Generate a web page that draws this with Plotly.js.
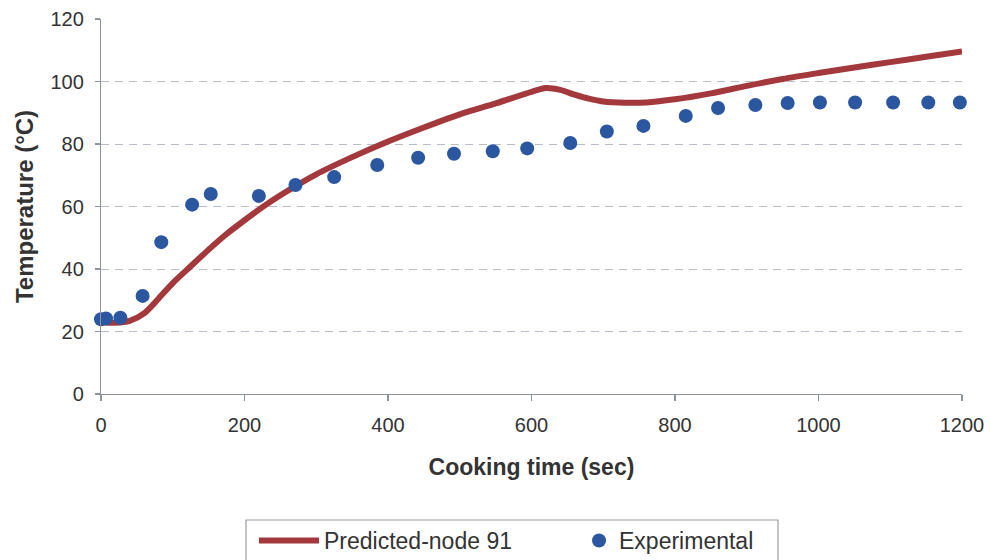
<!DOCTYPE html>
<html>
<head>
<meta charset="utf-8">
<script src="https://cdn.plot.ly/plotly-3.0.1.min.js"></script>
<style>
  html, body { margin: 0; padding: 0; background: #ffffff; }
  #chart { width: 990px; height: 560px; }
</style>
</head>
<body>
<div id="chart"></div>
<script>
// Predicted temperature at node 91 (model output)
const predTime = [0, 20, 40, 60, 80, 100, 120, 150, 175, 200, 225, 250, 300, 350, 400, 450, 500, 550,
                  600, 620, 640, 660, 680, 700, 730, 760, 800, 850, 900, 950, 1000, 1050, 1100, 1150, 1200];
const predTemp = [23, 22.8, 23.4, 25.8, 30.5, 35.5, 39.8, 46.2, 51.2, 55.6, 59.8, 63.6, 70.3, 75.8, 80.8, 85.3, 89.5, 93,
                  96.7, 97.9, 97.3, 95.8, 94.5, 93.6, 93.2, 93.3, 94.3, 96.2, 98.6, 100.8, 102.7, 104.5, 106.2, 107.9, 109.6];

// Measured temperatures
const expTime = [0, 7, 27, 58, 84, 127, 153, 220, 271, 325, 385, 442, 492, 546, 594, 654,
                 705, 756, 815, 860, 912, 957, 1002, 1051, 1104, 1153, 1197];
const expTemp = [23.9, 24.2, 24.4, 31.4, 48.6, 60.6, 64.0, 63.4, 66.9, 69.4, 73.3, 75.6, 76.9, 77.7, 78.6, 80.3,
                 84.0, 85.8, 89.0, 91.5, 92.5, 93.1, 93.3, 93.3, 93.3, 93.3, 93.3];

const xTicks = [0, 200, 400, 600, 800, 1000, 1200];
const yTicks = [0, 20, 40, 60, 80, 100, 120];

const textColor = '#333333';
const axisColor = '#8d929c';
const legendFont = { size: 23, color: textColor };

const traces = [
  {
    x: predTime, y: predTemp, name: 'Predicted-node 91', legend: 'legend',
    type: 'scatter', mode: 'lines', cliponaxis: false,
    line: { color: '#a3393c', width: 6, shape: 'spline', smoothing: 0.8 }
  },
  {
    x: expTime, y: expTemp, name: 'Experimental', legend: 'legend2',
    type: 'scatter', mode: 'markers', cliponaxis: false,
    marker: { color: '#2b56a0', size: 14 }
  }
];

const layout = {
  width: 990, height: 560,
  margin: { l: 101, r: 28, t: 19, b: 166, autoexpand: false },
  paper_bgcolor: '#ffffff', plot_bgcolor: '#ffffff',
  font: { family: 'Liberation Sans, Arial, sans-serif', color: textColor },
  showlegend: true,
  legend: {
    orientation: 'h', x: 0.1777, xanchor: 'left', y: -0.3333, yanchor: 'top',
    bgcolor: 'rgba(0,0,0,0)', borderwidth: 0, font: legendFont, itemwidth: 60
  },
  legend2: {
    orientation: 'h', x: 0.5552, xanchor: 'left', y: -0.3333, yanchor: 'top',
    bgcolor: 'rgba(0,0,0,0)', borderwidth: 0, font: legendFont, itemwidth: 30
  },
  // frame around the two legend entries
  shapes: [{
    type: 'rect', xref: 'paper', yref: 'paper',
    x0: 0.1684, x1: 0.7863, y0: -0.6, y1: -0.336,
    line: { color: '#9a9ea6', width: 1.2 }, fillcolor: 'rgba(0,0,0,0)', layer: 'below'
  }],
  xaxis: {
    range: [0, 1200], tickvals: xTicks, ticktext: xTicks.map(String),
    showgrid: false, zeroline: false,
    showline: true, linecolor: axisColor, linewidth: 1.2,
    ticks: 'outside', ticklen: 6, tickcolor: axisColor, tickwidth: 1.2,
    ticklabelstandoff: 7,
    tickfont: { size: 20, color: textColor },
    title: { text: '<b>Cooking time (sec)</b>', font: { size: 23, color: textColor }, standoff: 23 }
  },
  yaxis: {
    range: [0, 120], tickvals: yTicks, ticktext: yTicks.map(String),
    showgrid: true, gridcolor: '#b9bdc7', gridwidth: 1, griddash: '8px,6px',
    zeroline: false,
    showline: true, linecolor: axisColor, linewidth: 1.2,
    ticks: 'outside', ticklen: 5, tickcolor: axisColor, tickwidth: 1.2,
    ticklabelstandoff: 7,
    tickfont: { size: 20, color: textColor },
    title: { text: '<b>Temperature (°C)</b>', font: { size: 24, color: textColor }, standoff: 10 }
  }
};

Plotly.newPlot('chart', traces, layout, { displayModeBar: false, staticPlot: true });
</script>
</body>
</html>
